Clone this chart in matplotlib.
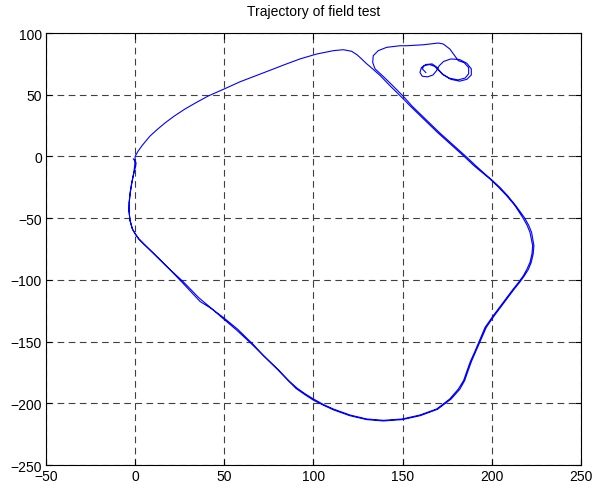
import matplotlib
matplotlib.use("Agg")
import matplotlib.pyplot as plt

plt.rcParams['font.family'] = ['Liberation Sans', 'DejaVu Sans']

# trajectory (start in the small loops, end at the hook near origin)
loops_x = [163, 161, 162, 165, 168, 170, 173, 177, 182, 186, 188.5, 188.5, 186, 182, 177, 173,
           170.5, 169, 167, 164, 161, 159.7, 160.5, 163, 166.5, 169, 172, 176, 181, 185, 187,
           187, 184.5, 181.2]
loops_y = [68, 71, 73.5, 74.5, 73, 70, 66, 62.5, 61, 62.5, 66, 71, 75.5, 78.5, 79, 77,
           73.5, 69.5, 66, 64.5, 65, 68, 72, 74.5, 75, 72.5, 67, 63.5, 62, 63.5, 67,
           72, 76, 77.6]

hook_x = [176.5, 172.8, 170.0, 161.6, 152.3, 148.5, 141.0, 136.3, 133.5, 133.2, 134.5, 139, 144, 150.5]
hook_y = [87.0, 91.1, 91.9, 90.5, 89.7, 89.7, 88.4, 85.7, 81.6, 76.2, 71, 65, 58, 48.5]

# lap 1: right side, bottom, left side, up to origin
lap1_x = [155.5, 160.5, 165.5, 170.5, 175.5, 180.5, 185.5, 191, 196, 200, 204.5, 209, 213.5,
          218.2, 220.6, 222.3, 223.6, 223.2, 222.1, 220.5, 218.3, 215.6, 212.6, 207.0, 201.4,
          196.9, 194.0, 191.0, 188.6, 186.6, 184.8, 182.0, 177.2, 169.6,
          159.9, 149.8, 139.2, 129.8, 120.3, 111.0, 105.5, 100.0, 95.2, 90.2, 85.8, 80.0,
          72.0, 64.4, 57.0, 48.9, 41.4, 35.8, 26.6, 17.4, 10.0, 5.0, 2.0, 0.0, -1.5,
          -2.9, -3.4, -3.3, -2.7, -1.8, -0.8, -0.2, 0.0]
lap1_y = [40.5, 33.5, 26.5, 19.5, 13, 6.5, 0, -7.5, -14, -19, -25, -32, -40,
          -49.4, -55.5, -61.5, -72.3, -79, -85.8, -91.5, -96.6, -102, -107.4, -118.2, -129.0,
          -138.5, -148, -158, -166, -174, -181.5, -188.7, -196.5, -204.8,
          -210.0, -213.2, -214.3, -213.2, -210.0, -205.2, -201.5, -197.5, -193.0, -188.0, -181.5, -172.8,
          -161.3, -150.7, -140.8, -130.8, -121.4, -114.6, -101.0, -88.8, -78.0, -71.0, -66.5, -62.5, -59.0,
          -52.0, -44.0, -37.2, -29.1, -21.0, -13.5, -6.5, 0.0]

# top-left edge, kink, then lap 2 ending at the hook
lap2_x = [1.5, 4.0, 8.3, 12.5, 16.7, 22.0, 27.9, 34.0, 41.0, 49.8, 58.8, 67.0, 75.6, 84.0,
          92.4, 101.8, 111.1, 116.7, 121.4, 124.5, 127.0, 129.5, 132.2, 137.5, 142.9, 149.5,
          154.5, 159.5, 164.5, 169.5, 174.5, 179.5, 184.5, 190, 195, 199, 203.5, 208.3, 212.8,
          217.3, 219.7, 221.4, 222.9, 222.5, 221.4, 219.8, 217.7, 215.0, 212.0, 206.4, 200.8,
          196.2, 193.4, 190.5, 188.0, 186.0, 184.2, 181.2, 176.4, 169.1, 159.7, 149.8, 139.2,
          129.8, 120.5, 111.1, 105.6, 100.0, 95.5, 90.6, 86.0, 80.0, 72.0, 66.3, 57.5, 49.4, 42.5,
          36.4, 27.0, 17.7, 10.2, 5.5, 2.0, -0.1, -1.6, -2.9, -3.5, -3.4, -2.8, -2.0, -1.0,
          0.3, 0.5, -1.0]
lap2_y = [4.0, 9.0, 16.5, 22.0, 27.1, 32.8, 38.4, 43.5, 49.0, 54.6, 60.5, 65.0, 69.8, 74.5,
          79.0, 83.0, 85.7, 86.5, 85.2, 82.3, 79.0, 75.5, 72.2, 65.4, 57.3, 47.9,
          40.5, 33.5, 26.5, 19.5, 13, 6.5, 0, -7.5, -13.5, -18.3, -24.5, -31.8, -39.5,
          -49.4, -55.5, -61.5, -72.3, -79, -85.8, -91.0, -96.6, -102, -107.4, -118.2, -129.0,
          -138.5, -148.0, -158, -166, -174, -181.5, -188.5, -196.5, -204.6, -209.5, -212.7, -213.8,
          -212.7, -209.5, -204.6, -201.0, -196.5, -192.5, -187.5, -181.5, -172.5, -161.5, -152.5, -140.0, -130.4, -123.0,
          -117.5, -103.0, -89.0, -78.5, -72.0, -67.0, -62.5, -58.5, -51.5, -44.0, -37.2,
          -29.1, -22.0, -15.0, -8.0, -5.0, -2.0]

xs = loops_x + hook_x + lap1_x + lap2_x
ys = loops_y + hook_y + lap1_y + lap2_y

fig = plt.figure(figsize=(6.09, 4.89), dpi=100)
ax = fig.add_axes([0.0755, 0.047, 0.8785, 0.8834])
ax.plot(xs, ys, color='#0000ff', linewidth=0.8)

ax.set_xlim(-50, 250)
ax.set_ylim(-250, 100)
ax.set_xticks(range(-50, 251, 50))
ax.set_yticks(range(-250, 101, 50))
ax.grid(True, color='0.25', linestyle=(0, (6, 4)), linewidth=0.8)
ax.tick_params(direction='in', top=True, right=True, length=4, labelsize=10, pad=3)
for s in ax.spines.values():
    s.set_linewidth(0.8)
ax.set_title('Trajectory of field test', fontsize=10, pad=13)

fig.savefig('out.png', dpi=100)
